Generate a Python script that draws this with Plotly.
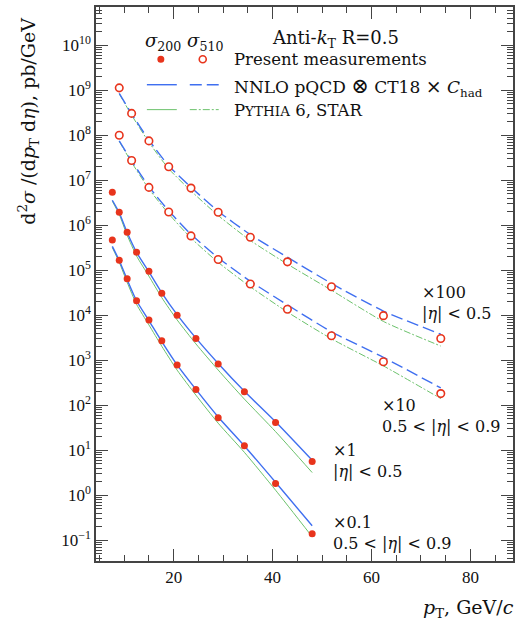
import plotly.graph_objects as go

# ---------------- data ----------------
pt200 = [7.6, 9.0, 10.6, 12.5, 15.0, 17.6, 20.7, 24.5, 29.0, 34.3, 40.6, 48.0]
meas200_eta05 = [5.4e6, 1.94e6, 7.0e5, 2.53e5, 9.5e4, 3.08e4, 1.0e4, 3.05e3, 826, 201, 41.5, 5.6]
meas200_eta59 = [4.73e5, 1.66e5, 6.5e4, 2.11e4, 7.9e3, 2.71e3, 785, 223, 52.7, 12.6, 1.82, 0.14]
nnlo200_eta05 = [3.6e6, 1.9e6, 6.9e5, 2.5e5, 9.2e4, 3.15e4, 1.03e4, 3.1e3, 850, 205, 43, 6.0]
nnlo200_eta59 = [3.4e5, 1.65e5, 6.2e4, 2.1e4, 7.6e3, 2.6e3, 790, 225, 55, 12.5, 1.95, 0.21]
pythia200_eta05 = [3.43e6, 1.73e6, 6.0e5, 2.08e5, 7.4e4, 2.46e4, 7.9e3, 2.31e3, 607, 137, 26, 3.2]
pythia200_eta59 = [3.2e5, 1.5e5, 5.4e4, 1.75e4, 6.1e3, 2.05e3, 605, 168, 40, 9.0, 1.3, 0.12]

pt510 = [9.0, 11.5, 15.0, 19.0, 23.5, 29.0, 35.5, 43.0, 51.9, 62.4, 74.0]
meas510_eta05 = [1.13e9, 3.06e8, 7.5e7, 2.0e7, 6.7e6, 1.94e6, 5.4e5, 1.54e5, 4.3e4, 9.8e3, 3.05e3]
meas510_eta59 = [1.0e8, 2.75e7, 6.95e6, 1.97e6, 5.8e5, 1.74e5, 4.95e4, 1.36e4, 3.5e3, 930, 182]
nnlo510_eta05 = [8.5e8, 3.0e8, 7.8e7, 2.1e7, 7.0e6, 2.05e6, 6.2e5, 1.95e5, 5.1e4, 1.24e4, 3.8e3]
nnlo510_eta59 = [7.5e7, 2.7e7, 7.2e6, 2.1e6, 6.3e5, 1.9e5, 5.7e4, 1.7e4, 4.3e3, 1.16e3, 243]
pythia510_eta05 = [8.3e8, 2.8e8, 7.0e7, 1.8e7, 5.8e6, 1.65e6, 4.6e5, 1.37e5, 3.6e4, 7.3e3, 2.07e3]
pythia510_eta59 = [7.3e7, 2.5e7, 6.4e6, 1.8e6, 5.2e5, 1.5e5, 4.3e4, 1.18e4, 3.0e3, 750, 141]

ytick_vals = [1e-1, 1e0, 1e1, 1e2, 1e3, 1e4, 1e5, 1e6, 1e7, 1e8, 1e9, 1e10]
ytick_text = ["10<sup>\u22121</sup>", "10<sup>0</sup>", "10<sup>1</sup>", "10<sup>2</sup>",
              "10<sup>3</sup>", "10<sup>4</sup>", "10<sup>5</sup>", "10<sup>6</sup>",
              "10<sup>7</sup>", "10<sup>8</sup>", "10<sup>9</sup>", "10<sup>10</sup>"]

RED = "#e8341c"
BLUE = "#3f6ff0"
GREEN = "#6cc26c"
TICKFONT = "Liberation Serif"
FONT = "DejaVu Serif"
AX = "#444444"

fig = go.Figure()

def theory(x, y, color, dash, width):
    fig.add_trace(go.Scatter(x=x, y=y, mode="lines",
                             line=dict(color=color, dash=dash, width=width, shape="spline", smoothing=0.6),
                             showlegend=False, hoverinfo="skip"))

theory(pt200, pythia200_eta05, GREEN, "solid", 1.0)
theory(pt200, pythia200_eta59, GREEN, "solid", 1.0)
theory(pt510, pythia510_eta05, GREEN, "7px,2px,2px,2px", 1.0)
theory(pt510, pythia510_eta59, GREEN, "7px,2px,2px,2px", 1.0)
theory(pt200, nnlo200_eta05, BLUE, "solid", 1.4)
theory(pt200, nnlo200_eta59, BLUE, "solid", 1.4)
theory(pt510, nnlo510_eta05, BLUE, "12px,5px", 1.4)
theory(pt510, nnlo510_eta59, BLUE, "12px,5px", 1.4)

for y in (meas200_eta05, meas200_eta59):
    fig.add_trace(go.Scatter(x=pt200, y=y, mode="markers",
                             marker=dict(color=RED, size=7, symbol="circle"),
                             showlegend=False))
for y in (meas510_eta05, meas510_eta59):
    fig.add_trace(go.Scatter(x=pt510, y=y, mode="markers",
                             marker=dict(color="white", size=7.5, symbol="circle",
                                         line=dict(color=RED, width=1.6)),
                             showlegend=False))

L, R, T, B = 96, 6, 5, 61
W, H = 520, 622
PW, PH = W - L - R, H - T - B

def px(xp):
    return (xp - L) / PW

def py(yp):
    return (H - B - yp) / PH

ann = []
def text(s, x, y, size=16, xanchor="left", yanchor="middle", angle=0, align="left"):
    ann.append(dict(text=s, x=px(x), y=py(y), xref="paper", yref="paper",
                    xanchor=xanchor, yanchor=yanchor, showarrow=False, textangle=angle,
                    align=align, borderpad=0,
                    font=dict(family=FONT, size=size, color="#111111")))

# legend block
text("<i>\u03c3</i><sub>200</sub> <i>\u03c3</i><sub>510</sub>", 144, 40, size=18)
text("Anti-<i>k</i><sub>T</sub> R=0.5", 271, 37, size=18)
text("Present measurements", 233, 58, size=16.5)
text("NNLO pQCD <span style='font-size:21px'>\u2297</span> CT18 <span style='font-size:19px'>\u00d7</span> <i>C</i><sub>had</sub>",
     233, 85, size=17)
text("P<span style='font-size:13.5px'>YTHIA</span> 6, STAR", 233, 109, size=16.5)

# series labels (two lines each)
text("\u00d7100<br>|<i>\u03b7</i>| &lt; 0.5", 422, 302)
text("\u00d710<br>0.5 &lt; |<i>\u03b7</i>| &lt; 0.9", 382, 415.5)
text("\u00d71<br>|<i>\u03b7</i>| &lt; 0.5", 333, 460.5)
text("\u00d70.1<br>0.5 &lt; |<i>\u03b7</i>| &lt; 0.9", 333, 533)

# axis titles
text("d<sup>2</sup><i>\u03c3</i> /(d<i>p</i><sub>T</sub> d<i>\u03b7</i>), pb/GeV", 28, 120,
     size=19, xanchor="center", angle=-90)
text("<i>p</i><sub>T</sub>, GeV/<i>c</i>", 516, 609, size=19, xanchor="right")

shapes = []
def seg(x0, x1, y, color, dash, width):
    shapes.append(dict(type="line", xref="paper", yref="paper", x0=px(x0), x1=px(x1),
                       y0=py(y), y1=py(y), line=dict(color=color, dash=dash, width=width)))

seg(147, 177, 83, BLUE, "solid", 1.4)
seg(190, 219, 83, BLUE, "12px,5px", 1.4)
seg(147, 177, 108, GREEN, "solid", 1.0)
seg(190, 219, 108, GREEN, "7px,2px,2px,2px", 1.0)

def dot(x, y, fill, lw):
    shapes.append(dict(type="circle", xref="paper", yref="paper", xsizemode="pixel", ysizemode="pixel",
                       xanchor=px(x), yanchor=py(y), x0=-3.5, x1=3.5, y0=-3.5, y1=3.5,
                       fillcolor=fill, line=dict(color=RED, width=lw)))

dot(161, 57.5, RED, 0)
dot(203, 57.5, "white", 1.6)

fig.update_layout(
    width=W, height=H,
    margin=dict(l=L, r=R, t=T, b=B),
    plot_bgcolor="white", paper_bgcolor="white",
    showlegend=False,
    annotations=ann, shapes=shapes,
    font=dict(family=TICKFONT, size=17, color="#111111"),
)
fig.update_xaxes(range=[4.3, 88.6], tickvals=[20, 40, 60, 80], ticks="inside", ticklen=12,
                 tickcolor=AX, tickwidth=1.2, showline=True, linecolor=AX, linewidth=1.5,
                 mirror="ticks", showgrid=False, zeroline=False,
                 tickfont=dict(family=TICKFONT, size=17, color="#111111"),
                 minor=dict(dtick=5, ticks="inside", ticklen=6, tickcolor=AX, tickwidth=1.0, showgrid=False))
fig.update_yaxes(type="log", range=[-1.46, 10.85], tickvals=ytick_vals, ticktext=ytick_text,
                 ticks="inside", ticklen=12, tickcolor=AX, tickwidth=1.2,
                 showline=True, linecolor=AX, linewidth=1.5, mirror="ticks",
                 showgrid=False, zeroline=False,
                 tickfont=dict(family=TICKFONT, size=17, color="#111111"),
                 minor=dict(dtick="D1", ticks="inside", ticklen=6, tickcolor=AX, tickwidth=1.0, showgrid=False))

fig.write_html("out.html", config={"displayModeBar": False},
               post_script="document.body.style.margin='0px';")
